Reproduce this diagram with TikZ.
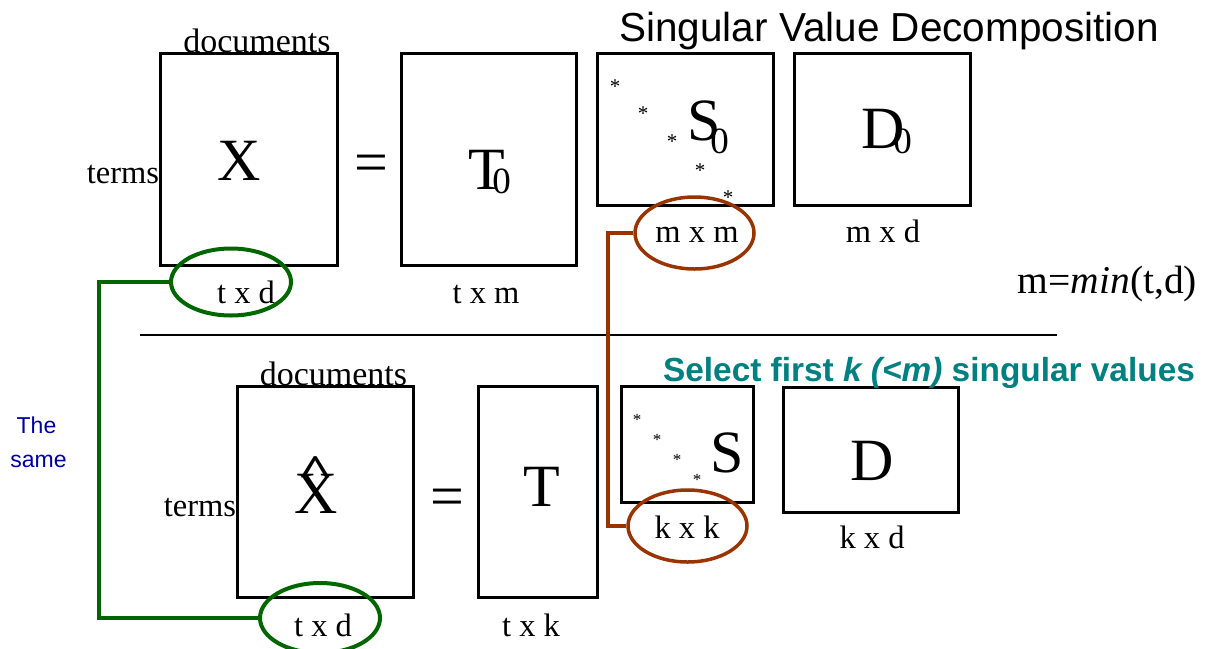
\documentclass[tikz,border=0pt]{standalone}
\usepackage{fontspec}
\setmainfont{Liberation Serif}
\setsansfont{Liberation Sans}
\usetikzlibrary{shapes.geometric}
\definecolor{grn}{RGB}{0,102,0}
\definecolor{brn}{RGB}{153,51,0}
\definecolor{tealc}{RGB}{0,128,128}
\definecolor{blu}{RGB}{0,0,160}
\begin{document}
\begin{tikzpicture}[x=1pt,y=-1pt,
  box/.style={draw, line width=3pt, inner sep=0pt},
  lbl/.style={anchor=base, inner sep=0pt, font=\fontsize{32.5}{38}\selectfont},
  docl/.style={anchor=base, inner sep=0pt, font=\fontsize{34}{38}\selectfont},
  big/.style={anchor=base, inner sep=0pt, font=\fontsize{60}{70}\selectfont},
  zsub/.style={anchor=base, inner sep=0pt, font=\fontsize{37}{42}\selectfont},
  starA/.style={anchor=base, inner sep=0pt, font=\fontsize{21}{24}\selectfont},
  starB/.style={anchor=base, inner sep=0pt, font=\fontsize{17}{20}\selectfont},
  ell/.style={ellipse, draw, line width=3.5pt, inner sep=0pt},
  gline/.style={draw=grn, line width=4pt},
  bline/.style={draw=brn, line width=3.5pt}
]
\useasboundingbox (0,0) rectangle (1206,648);

% ---- top row boxes
\node[box, minimum width=177pt, minimum height=212pt] (X0) at (248.5,159) {};
\node[box, minimum width=175pt, minimum height=212pt] (T0) at (489,159) {};
\node[box, minimum width=176pt, minimum height=152pt] (S0) at (685,129) {};
\node[box, minimum width=176pt, minimum height=152pt] (D0) at (882,129) {};

% ---- bottom row boxes
\node[box, minimum width=176pt, minimum height=211pt] (X1) at (325,491.5) {};
\node[box, minimum width=119pt, minimum height=211pt] (T1) at (537.5,491.5) {};
\node[box, minimum width=132pt, minimum height=116pt] (S1) at (687,444) {};
\node[box, minimum width=175pt, minimum height=125pt] (D1) at (870.5,449.5) {};

% ---- title and notes
\node[anchor=base, inner sep=0pt, font=\sffamily\fontsize{40.5}{46}\selectfont] (title) at (889,41) {Singular Value Decomposition};
\node[anchor=base, inner sep=0pt, text=tealc, font=\sffamily\bfseries\fontsize{33.4}{38}\selectfont] (sel) at (929,381) {Select first \textit{k (<m)} singular values};
\node[anchor=base, inner sep=0pt, font=\fontsize{39.5}{46}\selectfont] (mmin) at (1107.5,293) {m=\textit{min}(t,d)};
\node[anchor=base, inner sep=0pt, text=blu, font=\sffamily\fontsize{23}{28}\selectfont] (the) at (36.5,433) {The};
\node[anchor=base, inner sep=0pt, text=blu, font=\sffamily\fontsize{23}{28}\selectfont] (same) at (38.5,467) {same};

% ---- top labels
\node[docl] (doc0) at (257,52) {documents};
\node[lbl] (terms0) at (123,183) {terms};
\node[lbl] (txd0) at (246,303) {t x d};
\node[lbl] (txm) at (486,303) {t x m};
\node[lbl] (mxm) at (697,242) {m x m};
\node[lbl] (mxd) at (883,242) {m x d};

% ---- top letters
\node[big] (Xl) at (239,180) {X};
\node[big] (eq0) at (371,182) {=};
\node[big] (Tl) at (487,189) {T};
\node[zsub] (Tz) at (501.5,193) {0};
\node[big] (Sl) at (704,140) {S};
\node[zsub] (Sz) at (719.5,153) {0};
\node[big] (Dl) at (883,148) {D};
\node[zsub] (Dz) at (902.5,153) {0};

\node[starA] (s1) at (615,93) {*};
\node[starA] (s2) at (643,120) {*};
\node[starA] (s3) at (672,148) {*};
\node[starA] (s4) at (700,177) {*};
\node[starA] (s5) at (728,204) {*};

% ---- bottom labels
\node[docl] (doc1) at (333.5,385) {documents};
\node[lbl] (terms1) at (200,516) {terms};
\node[lbl] (txd1) at (323,636) {t x d};
\node[lbl] (txk) at (531,636) {t x k};
\node[lbl] (kxk) at (687,538) {k x k};
\node[lbl] (kxd) at (872,548) {k x d};

% ---- bottom letters
\node[big] (Xh) at (316,513) {X};
\node[anchor=base, inner sep=0pt, font=\bfseries\fontsize{48}{56}\selectfont] (hat) at (316,486) {\scalebox{1.3}[0.95]{\char"5E}};
\node[big] (eq1) at (447,516) {=};
\node[big] (T1l) at (542,506) {T};
\node[big] (S1l) at (727,472) {S};
\node[big] (D1l) at (872,480) {D};

\node[starB] (t1) at (637,425) {*};
\node[starB] (t2) at (657,445) {*};
\node[starB] (t3) at (677,465) {*};
\node[starB] (t4) at (697,485) {*};

% ---- separator
\coordinate (ruleL) at (140,335);
\coordinate (ruleR) at (1057,335);
\draw[line width=1.2pt] (ruleL) -- (ruleR);

% ---- ellipses
\node[ell, draw=grn, line width=4pt, minimum width=120pt, minimum height=67pt] (ge0) at (231,282) {};
\node[ell, draw=grn, line width=4pt, minimum width=120pt, minimum height=70pt] (ge1) at (320,618) {};
\node[ell, draw=brn, minimum width=119pt, minimum height=72pt] (be0) at (694.5,233) {};
\node[ell, draw=brn, minimum width=119pt, minimum height=72pt] (be1) at (687.5,526) {};

% ---- connectors
\coordinate (gx) at (99,0);
\coordinate (bx) at (608,0);
\draw[gline] (ge0.west) -- (ge0.west -| gx) -- (ge1.west -| gx) -- (ge1.west);
\draw[bline] (be0.west) -- (be0.west -| bx) -- (be1.west -| bx) -- (be1.west);
\end{tikzpicture}
\end{document}
